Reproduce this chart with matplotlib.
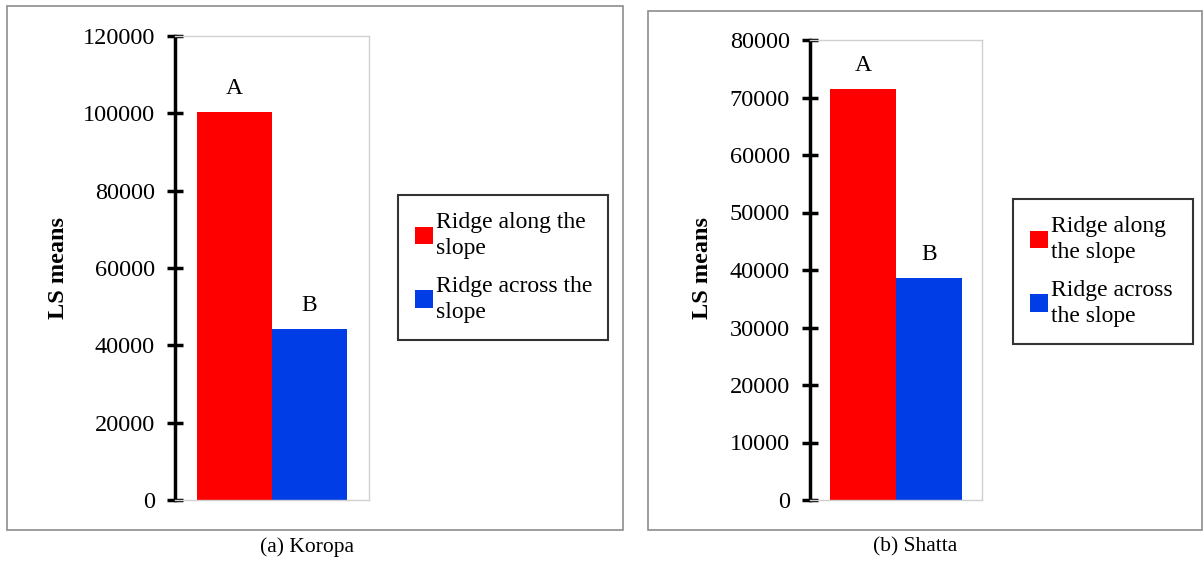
import numpy as np
import matplotlib.pyplot as plt
from matplotlib.patches import Rectangle, Patch

plt.rcParams['font.family'] = ['Liberation Serif', 'DejaVu Serif']

# data
series = ['Ridge along the\nslope', 'Ridge across the\nslope']
series_b = ['Ridge along\nthe slope', 'Ridge across\nthe slope']
koropa_vals = [100300, 44200]
shatta_vals = [71500, 38600]
letters = ['A', 'B']
colors = ['#ff0000', '#003de6']

W, H = 1204, 561
fig = plt.figure(figsize=(W / 100, H / 100), dpi=100)


def px_rect(x0, y0, x1, y1):
    # pixel box (top-left origin) -> figure fraction
    return [x0 / W, 1 - y1 / H, (x1 - x0) / W, (y1 - y0) / H]


# panel frames
for (x0, y0, x1, y1) in [(7, 6, 623, 530), (648, 11, 1202, 530)]:
    fig.patches.append(Rectangle((x0 / W, 1 - y1 / H), (x1 - x0) / W, (y1 - y0) / H,
                                 transform=fig.transFigure, fill=False,
                                 edgecolor='#8c8c8c', linewidth=1.2))


def panel(box, vals, labels, ymax, step, xl, legbox, ylab_x, caption, cap_x):
    ax = fig.add_axes(px_rect(*box))
    x = np.array([-0.5, 0.5])
    ax.bar(x, vals, width=1.0, color=colors)
    for xi, v, t in zip(x, vals, letters):
        ax.annotate(t, (xi, v), xytext=(0, 17), textcoords='offset points',
                    ha='center', va='center', fontsize=17)
    ax.set_xlim(*xl)
    ax.set_ylim(0, ymax)
    ax.set_yticks(np.arange(0, ymax + 1, step))
    ax.set_xticks([])
    for s in ['top', 'right', 'bottom']:
        ax.spines[s].set_color('#d0d0d0')
        ax.spines[s].set_linewidth(1)
    ax.spines['left'].set_linewidth(2.5)
    ax.tick_params(axis='y', direction='inout', length=11, width=2.5,
                   labelsize=17.5, pad=9)
    fig.text(ylab_x / W, 1 - 268 / H, 'LS means', rotation=90, fontsize=17.5,
             fontweight='bold', ha='center', va='center')
    handles = [Patch(facecolor=c, edgecolor='none') for c in colors]
    lx0, ly0, lx1, ly1 = legbox
    leg = ax.legend(handles, labels, loc='upper left',
                    bbox_to_anchor=(lx0 / W, 1 - ly0 / H, (lx1 - lx0) / W, 0.001),
                    bbox_transform=fig.transFigure, mode='expand',
                    borderaxespad=0, fancybox=False, fontsize=17,
                    handlelength=0.75, handleheight=0.75, handletextpad=0.15,
                    labelspacing=0.7, borderpad=0.72)
    for t in leg.get_texts():
        t.set_linespacing(1.3)
    leg.get_frame().set_edgecolor('black')
    leg.get_frame().set_linewidth(1.5)
    fig.text(cap_x / W, 1 - 547 / H, caption, fontsize=15.5, ha='center', va='center')
    return ax


panel((175, 36, 369, 500), koropa_vals, series, 120000, 20000, (-1.29, 1.3),
      (398, 196, 608, 340), 58, '(a) Koropa', 307)
panel((810, 40, 982, 500), shatta_vals, series_b, 80000, 10000, (-1.31, 1.31),
      (1013, 200, 1193, 342), 703, '(b) Shatta', 915)

plt.savefig('out.png', dpi=100)
